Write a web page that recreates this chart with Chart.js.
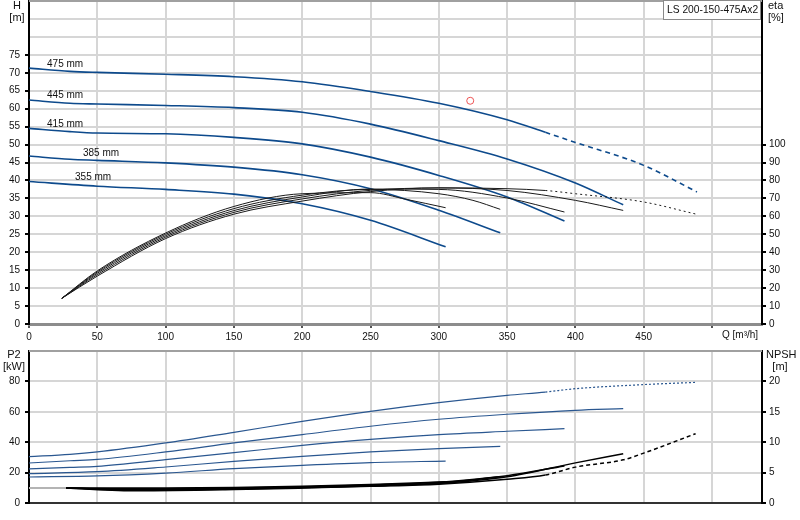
<!DOCTYPE html>
<html>
<head>
<meta charset="utf-8">
<script src="https://cdn.jsdelivr.net/npm/chart.js@4.4.0/dist/chart.umd.min.js"></script>
<style>
body{margin:0;background:#fff;}
#wrap{position:relative;width:800px;height:520px;}
#top{position:absolute;left:0;top:0;}
#bot{position:absolute;left:0;top:340px;}
</style>
</head>
<body>
<div id="wrap">
<canvas id="top" width="800" height="345"></canvas>
<canvas id="bot" width="800" height="180"></canvas>
</div>
<script>
const sizes = ['355 mm', '385 mm', '415 mm', '445 mm', '475 mm'];
const pumpName = 'LS 200-150-475Ax2';

// head H [m]
const qHead355 = [0, 50, 100, 150, 200, 250, 305];
const head355 = [39.7, 38.4, 37.5, 36.2, 33.5, 28.9, 21.5];
const qHead385 = [0, 30, 50, 100, 150, 200, 250, 300, 345];
const head385 = [46.8, 45.9, 45.6, 44.9, 43.7, 41.6, 37.7, 31.7, 25.4];
const qHead415 = [0, 30, 50, 100, 150, 200, 250, 300, 350, 392];
const head415 = [54.5, 53.6, 53.2, 53.0, 52.0, 50.2, 46.5, 41.4, 35.4, 28.7];
const qHead445 = [0, 30, 50, 100, 150, 200, 250, 300, 350, 400, 435];
const head445 = [62.4, 61.5, 61.3, 60.9, 60.3, 59.0, 55.7, 51.1, 46.0, 39.3, 33.2];
const qHead475 = [0, 30, 50, 100, 150, 200, 250, 300, 350, 378, 400, 450, 489];
const head475 = [71.3, 70.4, 70.1, 69.6, 68.9, 67.5, 64.8, 61.5, 56.9, 53.4, 50.6, 44.2, 36.8];

// efficiency eta [%]
const qEta355 = [24, 50, 100, 150, 200, 250, 276, 305];
const eta355 = [14.3, 29.6, 50.7, 65.5, 72.6, 73.2, 69.5, 64.8];
const qEta385 = [24, 50, 100, 150, 200, 250, 300, 325, 345];
const eta385 = [14.3, 29.0, 50.0, 64.3, 71.8, 75.0, 72.6, 68.9, 63.9];
const qEta415 = [24, 50, 100, 150, 200, 250, 300, 350, 392];
const eta415 = [14.3, 28.3, 49.2, 63.2, 70.8, 75.2, 75.0, 70.2, 62.4];
const qEta445 = [24, 50, 100, 150, 200, 250, 300, 350, 400, 435];
const eta445 = [14.3, 27.5, 48.4, 62.2, 69.7, 74.5, 75.8, 74.4, 68.9, 63.3];
const qEta475 = [24, 50, 100, 150, 200, 250, 300, 350, 378, 400, 450, 488];
const eta475 = [14.3, 26.7, 47.6, 61.2, 68.5, 73.8, 75.9, 75.4, 74.4, 72.6, 68.0, 61.3];

// power P2 [kW]
const qP355 = [0, 50, 100, 150, 200, 250, 305];
const p355 = [17.1, 17.8, 19.7, 22.6, 24.8, 26.6, 27.6];
const qP385 = [0, 50, 100, 150, 200, 250, 300, 345];
const p385 = [19.3, 20.6, 23.7, 27.4, 30.7, 33.6, 35.8, 37.3];
const qP415 = [0, 30, 50, 100, 150, 200, 250, 300, 350, 392];
const p415 = [22.4, 23.4, 24.1, 28.5, 33.1, 37.9, 41.9, 45.0, 47.2, 48.9];
const qP445 = [0, 30, 50, 100, 150, 200, 250, 300, 350, 400, 435];
const p445 = [26.3, 27.8, 28.7, 33.6, 39.5, 45.0, 50.5, 55.1, 58.4, 61.0, 62.1];
const qP475 = [0, 30, 50, 100, 150, 200, 250, 300, 350, 378, 400, 450, 489];
const p475 = [30.5, 32.0, 33.6, 39.5, 46.5, 53.7, 60.3, 66.0, 70.8, 73.0, 75.2, 77.9, 79.4];

// NPSH [m]
const qNpshLead = [0, 27];
const npshLead = [2.45, 2.45];
const qN355 = [27, 60, 100, 150, 200, 250, 305];
const n355 = [2.45, 2.45, 2.45, 2.55, 2.75, 3.05, 3.5];
const qN385 = [27, 60, 100, 150, 200, 250, 300, 345];
const n385 = [2.45, 2.35, 2.35, 2.45, 2.65, 2.95, 3.4, 4.3];
const qN415 = [27, 80, 150, 200, 250, 300, 350, 392];
const n415 = [2.45, 2.2, 2.35, 2.55, 2.85, 3.3, 4.5, 6.1];
const qN445 = [27, 80, 150, 200, 250, 300, 350, 400, 435];
const n445 = [2.45, 2.1, 2.3, 2.5, 2.8, 3.2, 4.3, 6.6, 8.1];
const qN475 = [27, 80, 150, 200, 250, 300, 350, 378, 400, 435, 450, 488];
const n475 = [2.45, 2.0, 2.2, 2.45, 2.75, 3.1, 3.9, 4.6, 5.9, 7.1, 8.2, 11.4];

// duty point
const dutyQ = [323];
const dutyH = [62.2];

const qMax = 536.6;
const dashFromQ = 378;

Chart.defaults.font.family = "'Liberation Sans', Arial, sans-serif";
Chart.defaults.font.size = 10;
Chart.defaults.color = '#111';

const blue = '#0d4a8c';
const gridCol = '#d6d6d6';

function line(qs, vs, axis, color, width, dash) {
  return {
    data: qs.map((q, i) => ({x: q, y: vs[i]})),
    yAxisID: axis,
    borderColor: color,
    borderWidth: width,
    pointRadius: 0,
    pointHoverRadius: 0,
    fill: false,
    cubicInterpolationMode: 'monotone',
    segment: dash ? {borderDash: c => c.p0.parsed.x >= dashFromQ - 0.01 ? dash : undefined} : {}
  };
}

function xScale(showLabels) {
  return {
    type: 'linear', min: 0, max: qMax,
    afterBuildTicks: s => { s.ticks = s.ticks.filter(t => t.value % 50 === 0); },
    ticks: {display: showLabels, stepSize: 50, autoSkip: false, maxRotation: 0, padding: 3,
      callback: v => v <= 450 ? v : ''},
    grid: {color: gridCol, lineWidth: 2, tickLength: 4, tickColor: '#555', drawTicks: showLabels},
    border: {color: showLabels ? '#8c8c8c' : '#333', width: showLabels ? 3 : 2},
    afterFit: s => { s.height = showLabels ? 21 : 17; s.paddingLeft = 0; s.paddingRight = 0; }
  };
}

function sideScale(pos, max, step, lastLabel, onArea) {
  return {
    position: pos, min: 0, max: max,
    afterBuildTicks: onArea ? undefined : s => { s.ticks = s.ticks.filter(t => t.value <= lastLabel); },
    ticks: {stepSize: step, autoSkip: false, padding: pos === 'left' ? 5 : 3,
      callback: v => v <= lastLabel ? v : ''},
    grid: {drawOnChartArea: onArea, color: gridCol, lineWidth: 2, tickLength: 4,
      tickColor: c => (c.tick && c.tick.value > lastLabel) ? 'rgba(0,0,0,0)' : '#000'},
    border: {color: '#000', width: 2},
    afterFit: s => { s.width = pos === 'left' ? 29 : 38; s.paddingTop = 0; s.paddingBottom = 0; }
  };
}

function fitFont(ctx, text, maxW, size) {
  ctx.font = size + "px 'Liberation Sans', Arial, sans-serif";
  while (ctx.measureText(text).width > maxW && size > 8) {
    size -= 0.25;
    ctx.font = size + "px 'Liberation Sans', Arial, sans-serif";
  }
}

const curveLabels = {
  id: 'curveLabels',
  afterDraw(chart) {
    const ctx = chart.ctx, x = chart.scales.x, y = chart.scales.y, a = chart.chartArea;
    ctx.save();
    ctx.strokeStyle = '#a0a0a0'; ctx.lineWidth = 2;
    ctx.beginPath(); ctx.moveTo(a.left, a.top); ctx.lineTo(a.right, a.top); ctx.stroke();
    ctx.fillStyle = '#111';
    ctx.font = "10px 'Liberation Sans', Arial, sans-serif";
    ctx.textBaseline = 'middle';
    const anchors = [[33.7, 40.8], [39.5, 47.5], [13.2, 55.6], [13.2, 63.6], [13.2, 72.5]];
    sizes.forEach((s, i) => {
      ctx.textAlign = 'left';
      ctx.fillText(s, x.getPixelForValue(anchors[i][0]), y.getPixelForValue(anchors[i][1]));
    });
    ctx.font = "11px 'Liberation Sans', Arial, sans-serif";
    ctx.textAlign = 'center';
    ctx.fillText('H', 17, 6);
    ctx.fillText('[m]', 17, 18);
    ctx.textAlign = 'left';
    ctx.fillText('eta', 768, 6);
    ctx.fillText('[%]', 768, 18);
    ctx.font = "10px 'Liberation Sans', Arial, sans-serif";
    ctx.fillText('Q [m³/h]', 722, 335);
    // name box
    ctx.fillStyle = '#fff';
    ctx.fillRect(663, 0, 98, 19);
    ctx.strokeStyle = '#8a8a8a'; ctx.lineWidth = 1;
    ctx.strokeRect(663.5, 0.5, 97, 19);
    ctx.fillStyle = '#111';
    fitFont(ctx, pumpName, 92, 11);
    ctx.fillText(pumpName, 667, 10);
    ctx.restore();
  }
};

const bottomLabels = {
  id: 'bottomLabels',
  afterDraw(chart) {
    const ctx = chart.ctx, a = chart.chartArea;
    ctx.save();
    ctx.strokeStyle = '#a0a0a0'; ctx.lineWidth = 2;
    ctx.beginPath(); ctx.moveTo(a.left, a.top); ctx.lineTo(a.right, a.top); ctx.stroke();
    ctx.fillStyle = '#111';
    ctx.font = "11px 'Liberation Sans', Arial, sans-serif";
    ctx.textBaseline = 'middle';
    ctx.textAlign = 'center';
    ctx.fillText('P2', 14, 15);
    ctx.fillText('[kW]', 14, 27);
    ctx.textAlign = 'left';
    ctx.fillText('NPSH', 766, 15);
    ctx.textAlign = 'center';
    ctx.fillText('[m]', 780, 27);
    ctx.restore();
  }
};

new Chart(document.getElementById('top'), {
  type: 'line',
  data: {
    datasets: [
      line(qEta355, eta355, 'eta', '#1a1a1a', 1),
      line(qEta385, eta385, 'eta', '#1a1a1a', 1),
      line(qEta415, eta415, 'eta', '#1a1a1a', 1),
      line(qEta445, eta445, 'eta', '#1a1a1a', 1),
      line(qEta475, eta475, 'eta', '#1a1a1a', 1, [2, 3]),
      line(qHead355, head355, 'y', blue, 1.6),
      line(qHead385, head385, 'y', blue, 1.6),
      line(qHead415, head415, 'y', blue, 1.6),
      line(qHead445, head445, 'y', blue, 1.6),
      line(qHead475, head475, 'y', blue, 1.6, [5, 4]),
      {
        data: dutyQ.map((q, i) => ({x: q, y: dutyH[i]})),
        yAxisID: 'y', showLine: false,
        pointRadius: 3.5, pointHoverRadius: 3.5, pointBorderWidth: 1,
        pointBorderColor: '#ee5555', pointBackgroundColor: 'rgba(0,0,0,0)'
      }
    ]
  },
  options: {
    responsive: false,
    animation: false,
    events: [],
    layout: {autoPadding: false, padding: {top: 1, left: 0, right: 0, bottom: 0}},
    plugins: {legend: {display: false}, tooltip: {enabled: false}},
    scales: {
      x: xScale(true),
      y: sideScale('left', 90, 5, 75, true),
      eta: sideScale('right', 180, 10, 100, false)
    }
  },
  plugins: [curveLabels]
});

new Chart(document.getElementById('bot'), {
  type: 'line',
  data: {
    datasets: [
      line(qNpshLead, npshLead, 'npsh', '#b4b4b4', 2),
      line(qN355, n355, 'npsh', '#000', 1.5),
      line(qN385, n385, 'npsh', '#000', 1.5),
      line(qN415, n415, 'npsh', '#000', 1.5),
      line(qN445, n445, 'npsh', '#000', 1.5),
      line(qN475, n475, 'npsh', '#000', 1.5, [4, 3]),
      line(qP355, p355, 'p2', '#2a5790', 1.2),
      line(qP385, p385, 'p2', '#2a5790', 1.2),
      line(qP415, p415, 'p2', '#2a5790', 1.2),
      line(qP445, p445, 'p2', '#2a5790', 1.2),
      line(qP475, p475, 'p2', '#2a5790', 1.2, [2, 2])
    ]
  },
  options: {
    responsive: false,
    animation: false,
    events: [],
    layout: {autoPadding: false, padding: {top: 11, left: 0, right: 0, bottom: 0}},
    plugins: {legend: {display: false}, tooltip: {enabled: false}},
    scales: {
      x: xScale(false),
      p2: sideScale('left', 100, 20, 80, true),
      npsh: sideScale('right', 25, 5, 20, false)
    }
  },
  plugins: [bottomLabels]
});
</script>
</body>
</html>
